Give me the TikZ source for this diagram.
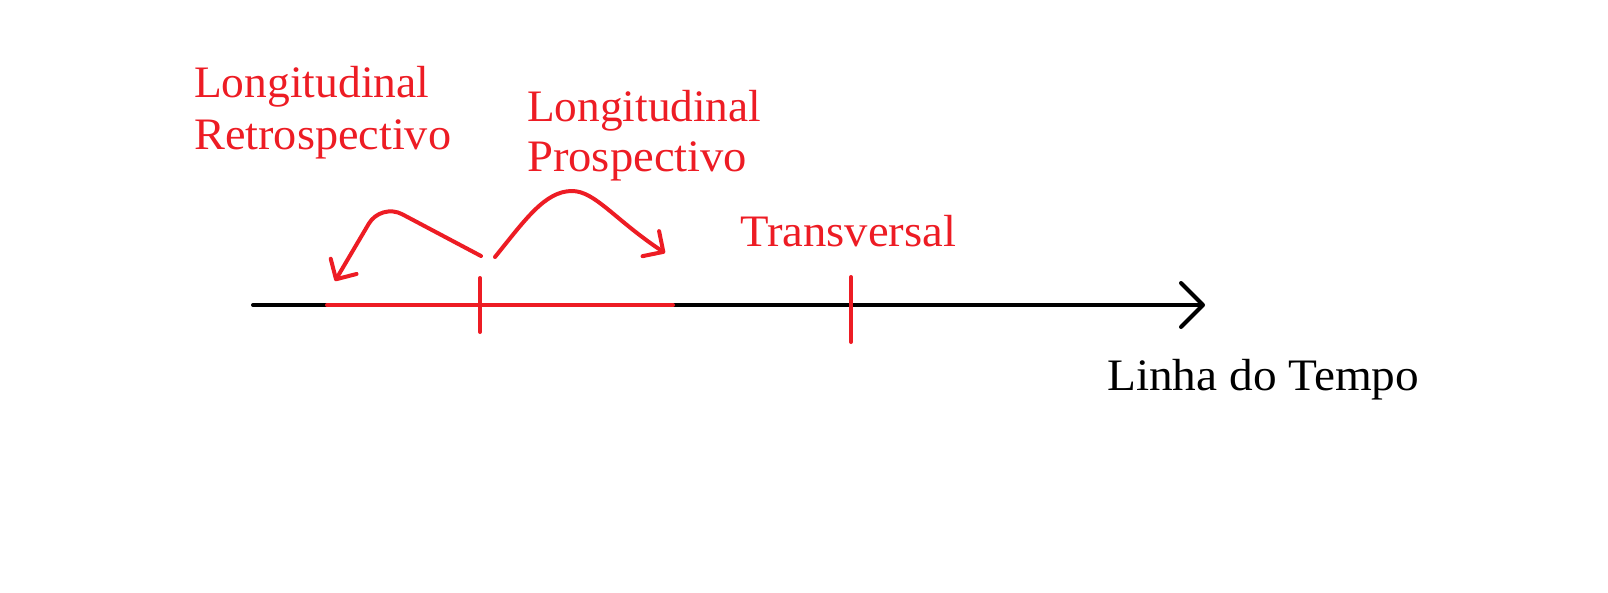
\documentclass[tikz,border=0pt]{standalone}
\usepackage{fontspec}
\usepackage{graphicx}
\setmainfont{Liberation Serif}
\usetikzlibrary{arrows.meta}
\definecolor{mspred}{RGB}{237,28,36}
\newcommand{\fitw}[2]{\resizebox{#1}{\height}{#2}}
\tikzset{
  lbl/.style={anchor=base west, inner sep=0pt, font=\fontsize{45}{54}\selectfont},
  redlbl/.style={lbl, text=mspred},
  axis/.style={line width=4pt, line cap=round, line join=round},
  redline/.style={line width=4pt, line cap=round, line join=round, draw=mspred},
  barb/.style={-{Straight Barb[length=15pt,width=30pt,line cap=round,line join=round]}},
}
\begin{document}
\begin{tikzpicture}[x=1pt,y=-1pt]
\useasboundingbox (0,0) rectangle (1608,592);
% timeline
\coordinate (t0) at (253,305);
\coordinate (tend) at (1205,305);
\coordinate (r0) at (327,305);
\coordinate (r1) at (673,305);
\coordinate (k1a) at (480,278);
\coordinate (k1b) at (480,332);
\coordinate (k2a) at (851,277);
\coordinate (k2b) at (851,342);
\draw[axis, -{Straight Barb[length=22pt,width=44pt,line cap=round,line join=round]}] (t0) -- (tend);
\draw[redline] (r0) -- (r1);
\draw[redline] (k1a) -- (k1b);
\draw[redline] (k2a) -- (k2b);
% curved arrows
\coordinate (ls) at (481,256);
\coordinate (lt) at (335,281);
\coordinate (rs) at (495,257);
\coordinate (rt) at (665,253);
\draw[redline, barb, rounded corners=24pt] (ls) -- (381,203) -- (lt);
\draw[redline, barb] (rs) .. controls (525,220) and (545,191) .. (572,191)
  .. controls (595,191) and (615,220) .. (rt);
% labels
\node[redlbl] (retro1) at (194,97) {\fitw{235pt}{Longitudinal}};
\node[redlbl] (retro2) at (194,149) {\fitw{257pt}{Retrospectivo}};
\node[redlbl] (prosp1) at (527,121) {\fitw{234pt}{Longitudinal}};
\node[redlbl] (prosp2) at (527,171) {\fitw{220pt}{Prospectivo}};
\node[redlbl] (trans) at (740,246) {\fitw{216pt}{Transversal}};
\node[lbl] (linha) at (1107,390) {\fitw{312pt}{Linha do Tempo}};
\end{tikzpicture}
\end{document}
